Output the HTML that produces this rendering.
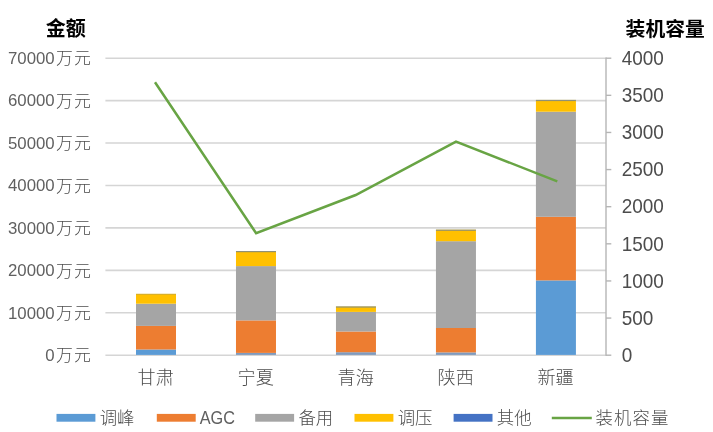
<!DOCTYPE html>
<html lang="zh"><head><meta charset="utf-8"><title>chart</title>
<style>
html,body{margin:0;padding:0;background:#fff;}
body{width:713px;height:432px;overflow:hidden;}
svg{display:block;}
text{font-family:"Liberation Sans","Noto Sans CJK SC",sans-serif;fill:#595959;}
.b{font-weight:bold;fill:#000;font-size:19.5px;}
.l{font-size:16.8px;fill:#606060;}
.k{font-size:16.9px;letter-spacing:1.3px;}
.r{font-size:20.6px;fill:#4c4c4c;}
.c{font-size:17.4px;font-weight:300;fill:#4d4d4d;}
.k{font-weight:300;fill:#4d4d4d;}
</style></head><body>
<svg width="713" height="432" viewBox="0 0 713 432">
<rect width="713" height="432" fill="#fff"/>
<line x1="105.4" x2="606.0" y1="58.20" y2="58.20" stroke="#d5d5d5" stroke-width="1.6"/>
<line x1="105.4" x2="606.0" y1="100.63" y2="100.63" stroke="#d5d5d5" stroke-width="1.6"/>
<line x1="105.4" x2="606.0" y1="143.06" y2="143.06" stroke="#d5d5d5" stroke-width="1.6"/>
<line x1="105.4" x2="606.0" y1="185.49" y2="185.49" stroke="#d5d5d5" stroke-width="1.6"/>
<line x1="105.4" x2="606.0" y1="227.91" y2="227.91" stroke="#d5d5d5" stroke-width="1.6"/>
<line x1="105.4" x2="606.0" y1="270.34" y2="270.34" stroke="#d5d5d5" stroke-width="1.6"/>
<line x1="105.4" x2="606.0" y1="312.77" y2="312.77" stroke="#d5d5d5" stroke-width="1.6"/>
<line x1="105.4" x2="606.0" y1="355.20" y2="355.20" stroke="#d5d5d5" stroke-width="1.6"/>
<rect x="136.00" y="349.50" width="40" height="5.40" fill="#5b9bd5"/>
<rect x="136.00" y="325.90" width="40" height="23.60" fill="#ed7d31"/>
<rect x="136.00" y="303.70" width="40" height="22.20" fill="#a5a5a5"/>
<rect x="136.00" y="293.80" width="40" height="9.90" fill="#ffc000"/>
<rect x="136.00" y="293.80" width="40" height="1.2" fill="#4472c4" fill-opacity="0.2"/>
<rect x="235.98" y="352.90" width="40" height="2.00" fill="#7f9abd"/>
<rect x="235.98" y="320.40" width="40" height="32.50" fill="#ed7d31"/>
<rect x="235.98" y="266.10" width="40" height="54.30" fill="#a5a5a5"/>
<rect x="235.98" y="251.00" width="40" height="15.10" fill="#ffc000"/>
<rect x="235.98" y="251.00" width="40" height="1.2" fill="#4472c4" fill-opacity="0.6"/>
<rect x="335.96" y="352.20" width="40" height="2.70" fill="#7f9abd"/>
<rect x="335.96" y="331.50" width="40" height="20.70" fill="#ed7d31"/>
<rect x="335.96" y="311.90" width="40" height="19.60" fill="#a5a5a5"/>
<rect x="335.96" y="306.40" width="40" height="5.50" fill="#ffc000"/>
<rect x="335.96" y="306.40" width="40" height="1.2" fill="#4472c4" fill-opacity="0.6"/>
<rect x="435.94" y="352.40" width="40" height="2.50" fill="#7f9abd"/>
<rect x="435.94" y="328.00" width="40" height="24.40" fill="#ed7d31"/>
<rect x="435.94" y="241.20" width="40" height="86.80" fill="#a5a5a5"/>
<rect x="435.94" y="229.60" width="40" height="11.60" fill="#ffc000"/>
<rect x="435.94" y="229.60" width="40" height="1.2" fill="#4472c4" fill-opacity="0.6"/>
<rect x="535.92" y="280.40" width="40" height="74.50" fill="#5b9bd5"/>
<rect x="535.92" y="216.80" width="40" height="63.60" fill="#ed7d31"/>
<rect x="535.92" y="111.70" width="40" height="105.10" fill="#a5a5a5"/>
<rect x="535.92" y="99.90" width="40" height="11.80" fill="#ffc000"/>
<rect x="535.92" y="99.90" width="40" height="1.2" fill="#4472c4" fill-opacity="0.6"/>
<line x1="606.0" x2="606.0" y1="57.6" y2="355.8" stroke="#b5b5b5" stroke-width="1.4"/>
<line x1="606.0" x2="611.3" y1="58.20" y2="58.20" stroke="#b5b5b5" stroke-width="1.4"/>
<line x1="606.0" x2="611.3" y1="95.33" y2="95.33" stroke="#b5b5b5" stroke-width="1.4"/>
<line x1="606.0" x2="611.3" y1="132.45" y2="132.45" stroke="#b5b5b5" stroke-width="1.4"/>
<line x1="606.0" x2="611.3" y1="169.57" y2="169.57" stroke="#b5b5b5" stroke-width="1.4"/>
<line x1="606.0" x2="611.3" y1="206.70" y2="206.70" stroke="#b5b5b5" stroke-width="1.4"/>
<line x1="606.0" x2="611.3" y1="243.82" y2="243.82" stroke="#b5b5b5" stroke-width="1.4"/>
<line x1="606.0" x2="611.3" y1="280.95" y2="280.95" stroke="#b5b5b5" stroke-width="1.4"/>
<line x1="606.0" x2="611.3" y1="318.07" y2="318.07" stroke="#b5b5b5" stroke-width="1.4"/>
<line x1="606.0" x2="611.3" y1="355.20" y2="355.20" stroke="#b5b5b5" stroke-width="1.4"/>
<polyline points="155.0,82.2 256.1,233.2 355.7,195.0 456.0,141.6 557.3,181.4" fill="none" stroke="#68a444" stroke-width="2.5" stroke-linejoin="miter"/>
<text class="l" x="54.7" y="64.00" text-anchor="end">70000</text><text class="l k" x="55.9" y="64.40">万元</text>
<text class="l" x="54.7" y="106.43" text-anchor="end">60000</text><text class="l k" x="55.9" y="106.83">万元</text>
<text class="l" x="54.7" y="148.86" text-anchor="end">50000</text><text class="l k" x="55.9" y="149.26">万元</text>
<text class="l" x="54.7" y="191.29" text-anchor="end">40000</text><text class="l k" x="55.9" y="191.69">万元</text>
<text class="l" x="54.7" y="233.71" text-anchor="end">30000</text><text class="l k" x="55.9" y="234.11">万元</text>
<text class="l" x="54.7" y="276.14" text-anchor="end">20000</text><text class="l k" x="55.9" y="276.54">万元</text>
<text class="l" x="54.7" y="318.57" text-anchor="end">10000</text><text class="l k" x="55.9" y="318.97">万元</text>
<text class="l" x="54.7" y="361.00" text-anchor="end">0</text><text class="l k" x="55.9" y="361.40">万元</text>
<text class="r" transform="translate(621.7,64.90) scale(0.92,1)">4000</text>
<text class="r" transform="translate(621.7,102.03) scale(0.92,1)">3500</text>
<text class="r" transform="translate(621.7,139.15) scale(0.92,1)">3000</text>
<text class="r" transform="translate(621.7,176.27) scale(0.92,1)">2500</text>
<text class="r" transform="translate(621.7,213.40) scale(0.92,1)">2000</text>
<text class="r" transform="translate(621.7,250.52) scale(0.92,1)">1500</text>
<text class="r" transform="translate(621.7,287.65) scale(0.92,1)">1000</text>
<text class="r" transform="translate(621.7,324.77) scale(0.92,1)">500</text>
<text class="r" transform="translate(621.7,361.90) scale(0.92,1)">0</text>
<text class="c" x="155.70" y="383.6" text-anchor="middle" style="font-size:18.1px">甘肃</text>
<text class="c" x="255.68" y="383.6" text-anchor="middle" style="font-size:18.1px">宁夏</text>
<text class="c" x="355.66" y="383.6" text-anchor="middle" style="font-size:18.1px">青海</text>
<text class="c" x="455.64" y="383.6" text-anchor="middle" style="font-size:18.1px">陕西</text>
<text class="c" x="555.62" y="383.6" text-anchor="middle" style="font-size:18.1px">新疆</text>
<text class="b" x="45.7" y="35.5" style="font-size:20px">金额</text>
<text class="b" x="625.6" y="35.6" style="font-size:19.8px">装机容量</text>
<rect x="56.5" y="413.9" width="38.9" height="7.8" fill="#5b9bd5"/>
<text class="c" x="99.7" y="424.4">调峰</text>
<rect x="156.8" y="413.9" width="38.9" height="7.8" fill="#ed7d31"/>
<text class="c" transform="translate(199.7,424.3) scale(0.905,1)" style="font-size:18px;fill:#606060">AGC</text>
<rect x="255.2" y="413.9" width="38.9" height="7.8" fill="#a5a5a5"/>
<text class="c" x="298.4" y="424.4">备用</text>
<rect x="354.5" y="413.9" width="38.9" height="7.8" fill="#ffc000"/>
<text class="c" x="397.7" y="424.4">调压</text>
<rect x="453.6" y="413.9" width="38.9" height="7.8" fill="#4472c4"/>
<text class="c" x="496.8" y="424.4">其他</text>
<line x1="551.8" x2="591.8" y1="418" y2="418" stroke="#68a444" stroke-width="2.5"/>
<text class="c" x="595.5" y="424.4" style="letter-spacing:1.1px">装机容量</text>
</svg></body></html>
